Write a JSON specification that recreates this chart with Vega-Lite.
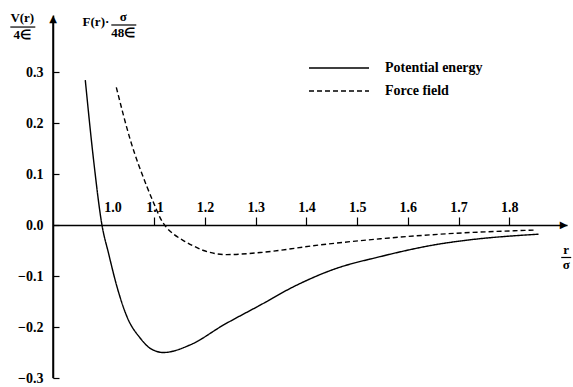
{
  "$schema": "https://vega.github.io/schema/vega-lite/v6.json",
  "width": 514,
  "height": 363,
  "autosize": {"type": "none"},
  "padding": {"left": 53, "top": 15, "right": 6, "bottom": 9},
  "background": "white",
  "config": {"view": {"stroke": null}, "font": "Liberation Serif"},
  "layer": [
    {
      "data": {"values": [
        {"series": "Potential energy", "r": 0.9637, "v": 0.284},
        {"series": "Potential energy", "r": 0.9801, "v": 0.127},
        {"series": "Potential energy", "r": 0.9966, "v": 0.0},
        {"series": "Potential energy", "r": 1.0097, "v": -0.056},
        {"series": "Potential energy", "r": 1.0262, "v": -0.121},
        {"series": "Potential energy", "r": 1.046, "v": -0.18},
        {"series": "Potential energy", "r": 1.0722, "v": -0.222},
        {"series": "Potential energy", "r": 1.092, "v": -0.242},
        {"series": "Potential energy", "r": 1.1181, "v": -0.25},
        {"series": "Potential energy", "r": 1.1708, "v": -0.235},
        {"series": "Potential energy", "r": 1.2365, "v": -0.196},
        {"series": "Potential energy", "r": 1.3089, "v": -0.157},
        {"series": "Potential energy", "r": 1.3746, "v": -0.121},
        {"series": "Potential energy", "r": 1.4535, "v": -0.087},
        {"series": "Potential energy", "r": 1.5456, "v": -0.062},
        {"series": "Potential energy", "r": 1.6639, "v": -0.037},
        {"series": "Potential energy", "r": 1.723, "v": -0.029},
        {"series": "Potential energy", "r": 1.8578, "v": -0.018},
        {"series": "Force field", "r": 1.0249, "v": 0.27},
        {"series": "Force field", "r": 1.0525, "v": 0.167},
        {"series": "Force field", "r": 1.0854, "v": 0.075},
        {"series": "Force field", "r": 1.1, "v": 0.04},
        {"series": "Force field", "r": 1.112, "v": 0.013},
        {"series": "Force field", "r": 1.124, "v": -0.005},
        {"series": "Force field", "r": 1.138, "v": -0.018},
        {"series": "Force field", "r": 1.155, "v": -0.029},
        {"series": "Force field", "r": 1.175, "v": -0.04},
        {"series": "Force field", "r": 1.197, "v": -0.05},
        {"series": "Force field", "r": 1.243, "v": -0.058},
        {"series": "Force field", "r": 1.309, "v": -0.054},
        {"series": "Force field", "r": 1.427, "v": -0.039},
        {"series": "Force field", "r": 1.546, "v": -0.027},
        {"series": "Force field", "r": 1.664, "v": -0.018},
        {"series": "Force field", "r": 1.848, "v": -0.01}
      ]},
      "mark": {"type": "line", "interpolate": "monotone", "strokeWidth": 1.4, "color": "black"},
      "encoding": {
        "x": {"field": "r", "type": "quantitative", "title": null,
          "scale": {"domain": [0.9, 1.914], "nice": false, "zero": false},
          "axis": {"orient": "top", "offset": -210, "values": [1.0, 1.1, 1.2, 1.3, 1.4, 1.5, 1.6, 1.7, 1.8], "format": ".1f", "grid": false,
            "domainColor": "black", "domainWidth": 1.5, "tickColor": "black", "tickSize": 8, "tickWidth": 1.2,
            "labelFont": "Liberation Serif", "labelFontWeight": "bold", "labelFontSize": 14, "labelColor": "black", "labelPadding": 3,
            "labelAlign": {"condition": {"test": "datum.value == 1", "value": "left"}, "value": "center"},
            "tickOpacity": {"condition": {"test": "datum.value == 1", "value": 0}, "value": 1},
            "labelFlush": false, "labelOverlap": false, "labelBound": false}},
        "y": {"field": "v", "type": "quantitative", "title": null,
          "scale": {"domain": [-0.3, 0.4118], "nice": false, "zero": false},
          "axis": {"orient": "left", "values": [-0.3, -0.2, -0.1, 0, 0.1, 0.2, 0.3], "format": ".1f", "grid": false,
            "domainColor": "black", "domainWidth": 1.5, "tickColor": "black", "tickSize": -6, "tickWidth": 1.2,
            "labelFont": "Liberation Serif", "labelFontWeight": "bold", "labelFontSize": 14, "labelColor": "black", "labelPadding": 16,
            "labelFlush": false, "labelOverlap": false, "labelBound": false}},
        "strokeDash": {"field": "series", "type": "nominal",
          "scale": {"domain": ["Potential energy", "Force field"], "range": [[1, 0], [5, 3]]},
          "legend": {"orient": "none", "legendX": 255, "legendY": 41.5, "title": null, "symbolType": "stroke", "symbolSize": 3600,
            "symbolStrokeWidth": 1.4, "symbolStrokeColor": "black", "clipHeight": 23, "rowPadding": 0, "labelOffset": 15,
            "labelFont": "Liberation Serif", "labelFontWeight": "bold", "labelFontSize": 14, "labelColor": "black", "padding": 0}}
      }
    },
    {
      "data": {"values": [{}]},
      "mark": {"type": "rule", "strokeWidth": 1.5, "color": "black"},
      "encoding": {
        "x": {"datum": 0.9, "type": "quantitative"},
        "y": {"datum": -0.3, "type": "quantitative"},
        "y2": {"datum": 0.4}
      }
    },
    {
      "data": {"values": [{}]},
      "mark": {"type": "text", "text": "▲", "font": "DejaVu Sans", "fontSize": 10, "color": "black", "align": "center", "baseline": "middle"},
      "encoding": {
        "x": {"datum": 0.9, "type": "quantitative"},
        "y": {"datum": 0.403, "type": "quantitative"}
      }
    },
    {
      "data": {"values": [{}]},
      "mark": {"type": "text", "text": "▶", "font": "DejaVu Sans", "fontSize": 10, "color": "black", "align": "center", "baseline": "middle"},
      "encoding": {
        "x": {"datum": 1.9075, "type": "quantitative"},
        "y": {"datum": 0, "type": "quantitative"}
      }
    },
    {
      "data": {"values": [{}]},
      "mark": {"type": "text", "text": "V(r)", "font": "Liberation Serif", "fontWeight": "bold", "fontSize": 13, "color": "black", "align": "center", "baseline": "middle"},
      "encoding": {
        "x": {"datum": 0.8394, "type": "quantitative"},
        "y": {"datum": 0.4059, "type": "quantitative"}
      }
    },
    {
      "data": {"values": [{}]},
      "mark": {"type": "rule", "strokeWidth": 1.2, "color": "black"},
      "encoding": {
        "x": {"datum": 0.8158, "type": "quantitative"},
        "x2": {"datum": 0.8651},
        "y": {"datum": 0.3882, "type": "quantitative"}
      }
    },
    {
      "data": {"values": [{}]},
      "mark": {"type": "text", "text": "4∈", "font": "Liberation Serif", "fontWeight": "bold", "fontSize": 13, "color": "black", "align": "center", "baseline": "middle"},
      "encoding": {
        "x": {"datum": 0.8394, "type": "quantitative"},
        "y": {"datum": 0.3725, "type": "quantitative"}
      }
    },
    {
      "data": {"values": [{}]},
      "mark": {"type": "text", "text": "F(r)·", "font": "Liberation Serif", "fontWeight": "bold", "fontSize": 13, "color": "black", "align": "right", "baseline": "middle"},
      "encoding": {
        "x": {"datum": 1.0111, "type": "quantitative"},
        "y": {"datum": 0.398, "type": "quantitative"}
      }
    },
    {
      "data": {"values": [{}]},
      "mark": {"type": "text", "text": "σ", "font": "Liberation Serif", "fontWeight": "bold", "fontSize": 13, "color": "black", "align": "center", "baseline": "middle"},
      "encoding": {
        "x": {"datum": 1.0387, "type": "quantitative"},
        "y": {"datum": 0.4078, "type": "quantitative"}
      }
    },
    {
      "data": {"values": [{}]},
      "mark": {"type": "rule", "strokeWidth": 1.2, "color": "black"},
      "encoding": {
        "x": {"datum": 1.015, "type": "quantitative"},
        "x2": {"datum": 1.0643},
        "y": {"datum": 0.3922, "type": "quantitative"}
      }
    },
    {
      "data": {"values": [{}]},
      "mark": {"type": "text", "text": "48∈", "font": "Liberation Serif", "fontWeight": "bold", "fontSize": 13, "color": "black", "align": "center", "baseline": "middle"},
      "encoding": {
        "x": {"datum": 1.0387, "type": "quantitative"},
        "y": {"datum": 0.3765, "type": "quantitative"}
      }
    },
    {
      "data": {"values": [{}]},
      "mark": {"type": "text", "text": "r", "font": "Liberation Serif", "fontWeight": "bold", "fontSize": 13, "color": "black", "align": "center", "baseline": "middle"},
      "encoding": {
        "x": {"datum": 1.9124, "type": "quantitative"},
        "y": {"datum": -0.049, "type": "quantitative"}
      }
    },
    {
      "data": {"values": [{}]},
      "mark": {"type": "rule", "strokeWidth": 1.2, "color": "black"},
      "encoding": {
        "x": {"datum": 1.9026, "type": "quantitative"},
        "x2": {"datum": 1.9223},
        "y": {"datum": -0.0637, "type": "quantitative"}
      }
    },
    {
      "data": {"values": [{}]},
      "mark": {"type": "text", "text": "σ", "font": "Liberation Serif", "fontWeight": "bold", "fontSize": 13, "color": "black", "align": "center", "baseline": "middle"},
      "encoding": {
        "x": {"datum": 1.9124, "type": "quantitative"},
        "y": {"datum": -0.0784, "type": "quantitative"}
      }
    }
  ]
}
